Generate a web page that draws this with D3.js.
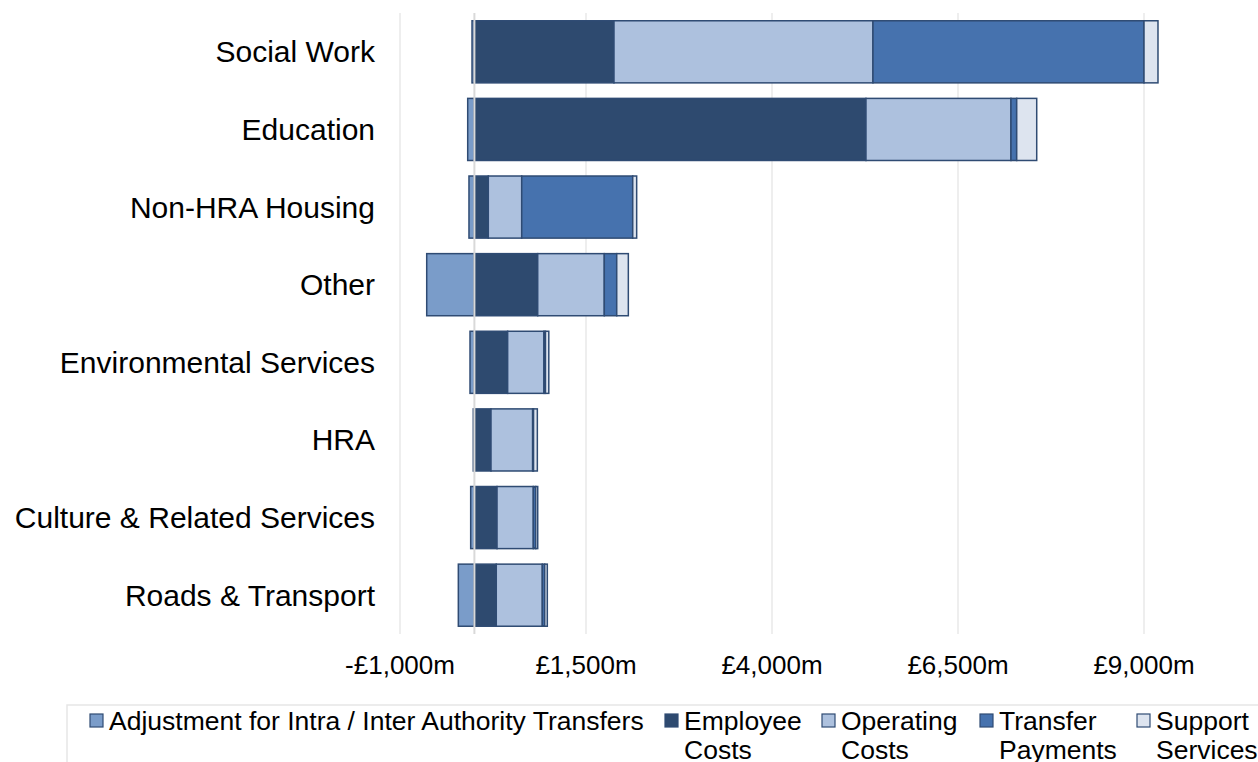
<!DOCTYPE html>
<html>
<head>
<meta charset="utf-8">
<script src="https://cdn.jsdelivr.net/npm/d3@7"></script>
<style>
  html, body { margin: 0; padding: 0; background: #fff; }
  svg { display: block; font-family: "Liberation Sans", Arial, sans-serif; }
</style>
</head>
<body>
<svg id="chart" width="1258" height="762"></svg>
<script>
// ---- data (£m) ----
const categories = ["Social Work", "Education", "Non-HRA Housing", "Other",
  "Environmental Services", "HRA", "Culture & Related Services", "Roads & Transport"];
const seriesNames = ["Adjustment for Intra / Inter Authority Transfers", "Employee Costs",
  "Operating Costs", "Transfer Payments", "Support Services"];
const adjustment = [-32, -90, -73, -641, -59, -15, -50, -216];
const employee   = [1876, 5263, 187, 851, 447, 223, 304, 294];
const operating  = [3481, 1949, 449, 895, 488, 560, 488, 619];
const transfer   = [3643, 77, 1492, 167, 20, 12, 32, 32];
const support    = [188, 269, 53, 156, 45, 51, 27, 35];
const tickValues = [-1000, 1500, 4000, 6500, 9000];
const tickLabels = ["-£1,000m", "£1,500m", "£4,000m", "£6,500m", "£9,000m"];
const legendLines = [["Adjustment for Intra / Inter Authority Transfers"], ["Employee", "Costs"],
  ["Operating", "Costs"], ["Transfer", "Payments"], ["Support", "Services"]];
const colors = ["#7a9cc9", "#2e4a6f", "#adc1de", "#4672ae", "#dde4ef"];

const rows = categories.map((c, i) => ({
  cat: c, s0: adjustment[i], s1: employee[i], s2: operating[i], s3: transfer[i], s4: support[i]
}));
const keys = ["s0", "s1", "s2", "s3", "s4"];

const svg = d3.select("#chart");
const x = d3.scaleLinear().domain([-1000, 9000]).range([400, 1144]);
const y = d3.scaleBand().domain(categories).range([13, 634]).paddingInner(0.2).paddingOuter(0.1);

// gridlines
svg.append("g").selectAll("line").data(tickValues).join("line")
  .attr("x1", d => x(d)).attr("x2", d => x(d))
  .attr("y1", 13).attr("y2", 634)
  .attr("stroke", "#e9e9e9").attr("stroke-width", 1.5);

const stack = d3.stack().keys(keys).offset(d3.stackOffsetDiverging);
const stacked = stack(rows);

svg.append("g").selectAll("g").data(stacked).join("g")
  .attr("fill", (d, i) => colors[i])
  .selectAll("rect").data(d => d).join("rect")
  .attr("x", d => x(Math.min(d[0], d[1])))
  .attr("width", d => Math.abs(x(d[1]) - x(d[0])))
  .attr("y", d => y(d.data.cat))
  .attr("height", y.bandwidth())
  .attr("stroke", "#2f4b73").attr("stroke-width", 1.5);

// zero line
svg.append("line")
  .attr("x1", x(0)).attr("x2", x(0)).attr("y1", 13).attr("y2", 634)
  .attr("stroke", "#d9d9d9").attr("stroke-width", 2);

// category labels
svg.append("g").selectAll("text").data(categories).join("text")
  .attr("x", 375).attr("y", d => y(d) + y.bandwidth() / 2)
  .attr("dy", "0.35em").attr("text-anchor", "end")
  .attr("font-size", 30).attr("fill", "#000")
  .text(d => d);

// x tick labels
svg.append("g").selectAll("text").data(tickValues).join("text")
  .attr("x", d => x(d)).attr("y", 674)
  .attr("text-anchor", "middle").attr("font-size", 26).attr("fill", "#000")
  .text((d, i) => tickLabels[i]);

// legend
const lg = svg.append("g");
lg.append("rect").attr("x", 67).attr("y", 705).attr("width", 1200).attr("height", 80)
  .attr("fill", "none").attr("stroke", "#e6e6e6").attr("stroke-width", 1.5);
const legX = [90, 665, 822, 980, 1137];
const items = lg.selectAll("g.item").data(seriesNames).join("g").attr("class", "item");
items.append("rect")
  .attr("x", (d, i) => legX[i]).attr("y", 714).attr("width", 13).attr("height", 13)
  .attr("fill", (d, i) => colors[i]).attr("stroke", "#2f4b73").attr("stroke-width", 1.2);
items.each(function(d, i) {
  const t = d3.select(this).append("text")
    .attr("x", legX[i] + 19).attr("y", 730).attr("font-size", 26.5).attr("fill", "#000");
  legendLines[i].forEach((ln, j) => {
    t.append("tspan").attr("x", legX[i] + 19).attr("dy", j === 0 ? 0 : 29).text(ln);
  });
});
</script>
</body>
</html>
